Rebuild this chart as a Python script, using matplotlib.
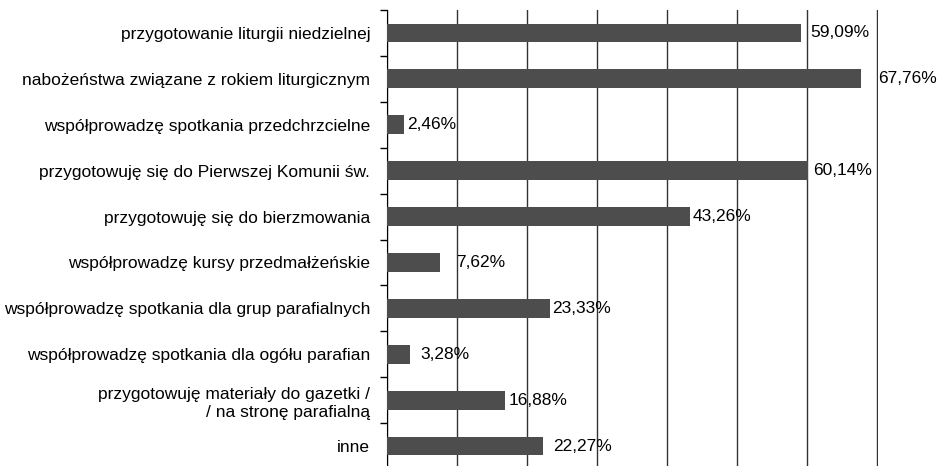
import matplotlib.pyplot as plt
import numpy as np

# categories top -> bottom
categories = [
    'przygotowanie liturgii niedzielnej',
    'nabożeństwa związane z rokiem liturgicznym',
    'współprowadzę spotkania przedchrzcielne',
    'przygotowuję się do Pierwszej Komunii św.',
    'przygotowuję się do bierzmowania',
    'współprowadzę kursy przedmałżeńskie',
    'współprowadzę spotkania dla grup parafialnych',
    'współprowadzę spotkania dla ogółu parafian',
    'przygotowuję materiały do gazetki /\n/ na stronę parafialną',
    'inne',
]
values = [59.09, 67.76, 2.46, 60.14, 43.26, 7.62, 23.33, 3.28, 16.88, 22.27]
value_labels = ['59,09%', '67,76%', '2,46%', '60,14%', '43,26%',
                '7,62%', '23,33%', '3,28%', '16,88%', '22,27%']
# extra gap (in %) between bar end and its label, as in the original
label_gap = [1.45, 2.45, 0.35, 0.75, 0.45, 2.3, 0.2, 1.45, 0.45, 1.45]

plt.rcParams['font.family'] = ['Liberation Sans', 'DejaVu Sans']
fs = 12.5

fig = plt.figure(figsize=(9.39, 4.66), dpi=100)
ax = fig.add_axes([387/939, -3/466, 491/939, 459/466])

y = np.arange(len(categories))
ax.barh(y, values, height=0.41, color='#4d4d4d', zorder=3)

for i in range(len(values)):
    ax.text(values[i] + label_gap[i], y[i], value_labels[i], va='center',
            ha='left', fontsize=fs, color='black', zorder=4)

ax.set_xlim(0, 70.15)
ax.set_ylim(len(categories) - 0.5, -0.5)
ax.set_xticks(np.arange(0, 71, 10))
ax.xaxis.grid(True, color='#333333', linewidth=1, zorder=0)
ax.tick_params(axis='x', length=0, labelbottom=False)

ax.set_yticks(y)
ax.set_yticklabels(categories, fontsize=fs, linespacing=1.25)
ax.set_yticks(np.arange(-0.5, len(categories), 1), minor=True)
ax.tick_params(axis='y', which='major', length=0, pad=12)
ax.tick_params(axis='y', which='minor', length=5, width=1, color='black')
for lbl in ax.get_yticklabels():
    lbl.set_multialignment('right')

for s in ['top', 'right', 'bottom']:
    ax.spines[s].set_visible(False)
ax.spines['left'].set_color('black')

fig.savefig('out.png', dpi=100)
